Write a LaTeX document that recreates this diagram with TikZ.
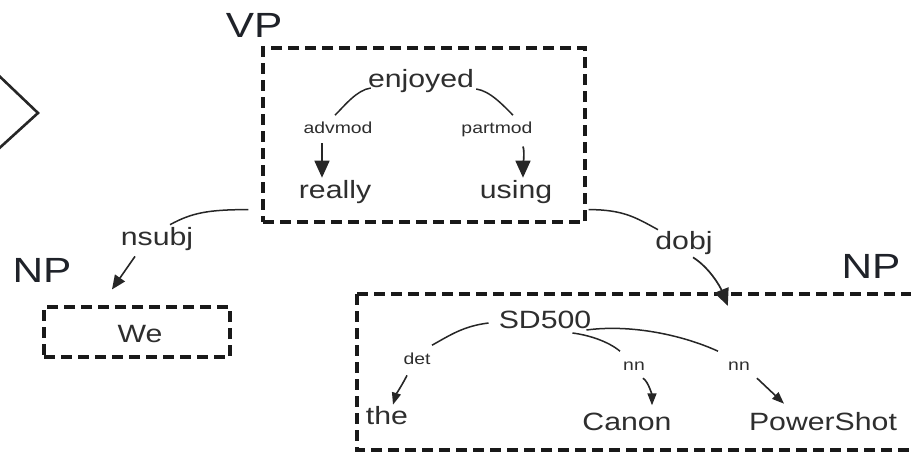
\documentclass[tikz,border=0pt]{standalone}
\usepackage{fontspec}
\setmainfont{Liberation Sans}
\usetikzlibrary{arrows.meta}
\definecolor{txt}{HTML}{2E2E2E}
\definecolor{hd}{HTML}{1F2229}
\definecolor{ln}{HTML}{262626}
\newcommand{\sx}[1]{\scalebox{1.21}[1]{#1}}
\tikzset{
  word/.style={font=\fontsize{25}{30}\selectfont, text=txt, inner sep=0pt, anchor=base},
  lab/.style={font=\fontsize{16}{19}\selectfont, text=txt, inner sep=0pt, anchor=base},
  head/.style={font=\fontsize{35}{40}\selectfont, text=hd, inner sep=0pt, anchor=base},
  dbox/.style={draw=black!90, line width=3.2pt, dash pattern=on 11pt off 6pt, inner sep=0pt},
  arc/.style={draw=ln, line width=1.5pt},
  bigarr/.style={draw=ln, line width=1.7pt, -{Triangle[length=17pt,width=15pt]}},
  arr/.style={draw=ln, line width=1.6pt, -{Triangle[length=12pt,width=9pt]}},
}
\begin{document}
\begin{tikzpicture}[x=1pt,y=-1pt]
\useasboundingbox (0,0) rectangle (911,453);
\clip (0,0) rectangle (911,453);
% left chevron
\draw[ln, line width=2.6pt] (-6,71) -- (38,113) -- (-6,153);
% boxes
\node[dbox, minimum width=322pt, minimum height=174pt] (vp) at (424,135) {};
\node[dbox, minimum width=186pt, minimum height=50pt] (webox) at (137,332) {};
\draw[dbox] (357,294) -- (960,294);
\draw[dbox] (357,294) -- (357,450) -- (960,450);
\node[inner sep=0pt, minimum width=603pt, minimum height=156pt] (npbox) at (658.5,372) {};
% headings
\node[head] (vph) at (254,37) {\sx{VP}};
\node[head] (nph1) at (42,282) {\sx{NP}};
\node[head] (nph2) at (871,278) {\sx{NP}};
% words
\node[word] (enj) at (421,87) {\sx{enjoyed}};
\node[word] (real) at (335,198) {\sx{really}};
\node[word] (using) at (516,198) {\sx{using}};
\node[word] (we) at (140,342) {\sx{We}};
\node[word] (sd) at (545,328) {\sx{SD500}};
\node[word] (the) at (387,424) {\sx{the}};
\node[word] (canon) at (627,430) {\sx{Canon}};
\node[word] (ps) at (823,430) {\sx{PowerShot}};
% labels
\node[lab] (adv) at (338,133) {\sx{advmod}};
\node[lab] (part) at (497,133) {\sx{partmod}};
\node[word] (nsubj) at (157,245) {\sx{nsubj}};
\node[word] (dobj) at (684,249) {\sx{dobj}};
\node[lab] (det) at (417,364) {\sx{det}};
\node[lab] (nn1) at (634,370) {\sx{nn}};
\node[lab] (nn2) at (739,370) {\sx{nn}};
% VP internal
\draw[arc] ([shift={(3,1)}]enj.base west) .. controls +(-14,2) and +(10,-10) .. ([shift={(-3,-6)}]adv.north);
\draw[arc] ([shift={(2,2)}]enj.base east) .. controls +(14,2) and +(-10,-10) .. ([shift={(16,-6)}]part.north);
\draw[bigarr] ([shift={(-16,10)}]adv.south) -- ([shift={(-13,-2)}]real.north);
\draw[bigarr] ([shift={(26,10)}]part.south) .. controls +(2,6) and +(0,-10) .. ([shift={(7,-2)}]using.north);
% nsubj
\draw[arc] ([shift={(-13,-14)}]vp.south west) .. controls +(-40,0) and +(22,-12) .. ([shift={(13,-2)}]nsubj.north);
\draw[arr, -{Triangle[length=14pt,width=12pt]}] ([shift={(-22,6)}]nsubj.south) -- ([shift={(-25,-16)}]webox.north);
% dobj
\draw[arc] ([shift={(2,-14)}]vp.south east) .. controls +(35,0) and +(-22,-12) .. ([shift={(-26,-1)}]dobj.north);
\draw[bigarr] ([shift={(9,3)}]dobj.south) .. controls +(16,10) and +(-8,-20) .. ([shift={(371,12)}]npbox.north west);
% NP internal
\draw[arc] ([shift={(-10,-5)}]sd.base west) .. controls +(-25,3) and +(18,-10) .. ([shift={(15,-7)}]det.north);
\draw[arr] ([shift={(-10,11)}]det.south) .. controls +(-4,8) and +(3,-10) .. ([shift={(6,-1)}]the.north);
\draw[arc] ([shift={(-19,5)}]sd.base east) .. controls +(16,2) and +(-12,-10) .. ([shift={(-14,-10)}]nn1.north);
\draw[arr] ([shift={(9,8)}]nn1.south) .. controls +(6,4) and +(0,-9) .. ([shift={(25,-7)}]canon.north);
\draw[arc] ([shift={(-5,2)}]sd.base east) .. controls +(45,-6) and +(-35,-16) .. ([shift={(-21,-10)}]nn2.north);
\draw[arr] ([shift={(18,8)}]nn2.south) -- ([shift={(-39,-8)}]ps.north);
\end{tikzpicture}
\end{document}
